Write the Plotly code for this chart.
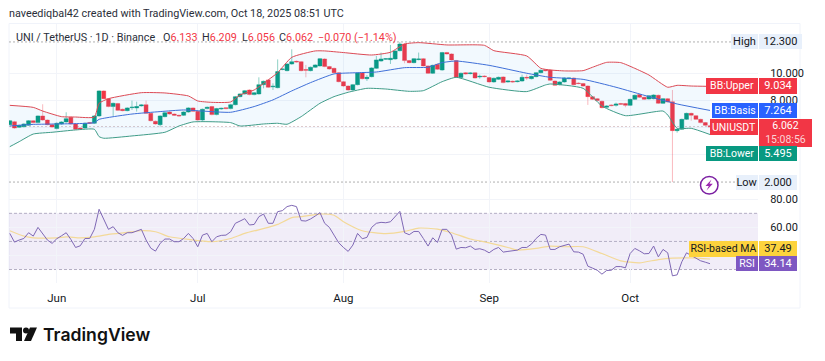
import pandas as pd
import plotly.graph_objects as go

W, H = 825, 361
START = "2025-05-22"
open_ = [6.22,6.44,6.03,6.07,6.17,6.51,6.37,6.86,6.56,6.22,5.93,6.27,6.42,6.76,6.27,5.97,5.97,6.37,6.32,6.86,
8.70,8.13,7.55,7.77,7.35,7.25,7.47,7.45,7.60,7.69,7.05,6.47,6.22,6.81,7.15,7.00,6.91,6.91,7.15,7.45,
7.20,6.56,7.40,7.55,6.96,7.37,7.47,7.40,7.69,8.28,8.48,8.77,8.43,8.48,9.16,9.51,9.00,8.94,10.27,10.19,
10.68,10.88,10.85,10.27,10.19,10.44,10.54,11.05,10.49,10.36,10.04,9.38,9.06,8.77,9.16,10.02,9.60,9.75,10.36,10.90,
11.03,11.00,11.05,11.66,12.15,10.93,10.78,11.00,11.07,10.54,10.00,10.66,10.24,11.52,11.42,10.93,9.68,10.04,9.97,10.04,
9.73,9.80,9.68,9.36,9.55,9.73,9.36,9.41,9.38,9.43,9.70,9.60,9.75,10.04,10.26,10.24,9.43,9.16,9.36,9.60,
9.65,9.28,9.24,9.06,8.28,8.13,7.94,7.50,7.67,7.64,7.77,7.77,7.64,8.08,8.43,8.23,8.11,8.13,8.38,7.79,
8.13,7.91,5.78,5.88,6.61,7.05,6.88,6.61,6.37,6.133]
close = [6.51,5.97,6.17,6.27,6.51,6.37,6.86,6.56,6.22,6.05,6.32,6.42,6.66,6.27,5.88,5.90,6.32,6.32,6.86,8.70,
8.13,7.55,7.79,7.27,7.25,7.45,7.50,7.55,7.67,7.05,6.51,6.27,6.86,7.10,7.00,6.91,6.86,7.15,7.45,7.20,
6.56,7.35,7.50,6.96,7.40,7.42,7.40,7.69,8.28,8.48,8.72,8.43,8.57,9.16,9.41,8.97,9.04,10.12,10.31,10.68,
10.85,10.83,10.19,10.22,10.44,10.61,11.07,10.49,10.31,10.04,9.38,9.06,8.77,9.16,10.02,9.60,9.70,10.39,10.98,11.05,
11.07,11.10,11.64,12.15,10.93,10.78,11.07,11.05,10.54,10.00,10.58,10.29,11.52,11.42,10.98,9.70,10.00,9.95,10.02,9.65,
9.77,9.75,9.36,9.63,9.70,9.31,9.43,9.36,9.43,9.70,9.65,9.77,10.04,10.22,10.19,9.48,9.11,9.36,9.65,9.65,
9.16,9.24,9.06,8.28,8.08,7.99,7.47,7.59,7.62,7.74,7.72,7.64,8.08,8.38,8.23,8.08,8.35,8.40,7.79,8.13,
7.89,5.78,5.88,6.61,7.05,6.91,6.61,6.37,6.17,6.062]
high = [6.56,6.50,6.22,6.32,6.56,6.55,6.90,7.72,6.60,6.28,6.38,6.47,7.13,6.82,6.32,6.02,6.38,6.42,6.92,8.75,
8.75,8.18,7.84,7.82,7.40,7.50,7.99,7.91,7.72,7.99,7.10,6.52,6.91,7.15,7.20,7.05,6.96,7.20,7.50,7.50,
7.25,7.40,7.55,7.60,7.45,7.47,7.52,7.75,8.33,8.53,8.77,8.82,8.62,9.70,9.46,9.56,9.26,11.02,10.36,10.73,
11.76,10.93,10.90,10.61,10.49,10.66,11.12,11.10,10.54,10.41,10.09,9.43,9.11,9.21,10.07,10.07,9.87,10.44,11.27,11.52,
11.12,12.08,11.70,12.30,12.20,10.98,11.12,11.52,11.12,10.59,10.63,10.71,11.57,11.57,11.47,10.98,10.05,10.09,10.07,10.09,
9.90,9.85,9.73,9.68,9.75,9.78,9.48,9.46,9.48,9.90,9.90,9.82,10.09,10.27,10.31,10.29,9.48,9.41,9.70,9.70,
9.70,9.33,9.29,9.11,8.33,8.18,7.99,7.64,7.72,7.84,7.82,7.82,8.13,8.43,8.48,8.28,8.40,8.45,8.43,8.18,
8.18,8.77,5.93,6.66,7.10,7.10,6.93,6.66,6.42,6.209]
low = [6.17,5.92,5.98,6.02,6.12,6.32,6.32,6.51,6.17,6.00,5.88,6.22,6.37,6.22,5.83,5.85,5.92,6.27,6.27,6.81,
8.08,7.50,6.86,7.22,7.20,7.20,7.30,7.18,7.55,7.00,6.46,6.22,6.07,6.76,6.95,6.86,6.81,6.86,7.10,7.15,
6.51,6.51,7.35,6.91,6.91,7.32,7.35,7.35,7.64,8.23,8.43,8.38,8.38,8.43,8.89,8.92,8.77,8.89,10.22,10.14,
10.63,10.78,10.14,9.70,10.14,10.39,10.49,10.44,10.26,9.99,9.33,9.01,8.72,8.72,9.11,9.55,9.43,9.70,10.31,10.85,
10.98,10.68,11.00,11.61,10.73,10.73,10.73,10.95,10.49,9.95,9.95,10.24,10.19,11.37,10.93,9.65,9.63,9.90,9.92,9.60,
9.60,9.70,9.31,9.31,9.50,9.26,9.31,9.31,9.33,9.38,9.50,9.55,9.70,9.99,10.14,9.43,9.06,9.11,9.31,9.55,
9.11,9.19,9.01,7.67,8.03,7.94,7.42,7.45,7.57,7.55,7.67,7.50,7.59,8.03,8.18,8.03,8.06,8.08,7.74,7.74,
7.84,2.00,5.63,5.83,6.56,6.51,6.56,6.32,6.12,6.056]

bb_upper_idx = [0,5,7,11,14,18,19,21,28,33,38,40,43,47,49,52,55,57,60,65,67,71,77,81,84,87,93,101,103,110,113,115,118,122,124,127,130,133,136,140,142,145,149]
bb_upper = [7.64,7.49,7.22,6.81,6.78,6.78,7.79,8.13,8.57,8.55,8.33,7.96,7.86,7.89,8.40,8.77,9.51,10.04,11.17,11.64,11.64,11.52,11.34,11.54,12.15,12.25,12.08,12.05,11.66,11.27,10.36,10.24,10.17,10.19,10.44,10.80,10.78,10.36,9.87,8.97,9.11,9.06,9.034]
bb_basis_idx = [0,5,10,18,19,26,32,37,41,47,52,56,60,64,69,74,78,84,89,92,95,102,110,115,122,129,136,142,149]
bb_basis = [6.12,6.24,6.27,6.37,6.61,7.00,7.18,7.30,7.22,7.13,7.55,8.04,8.70,9.31,9.95,10.04,10.09,10.41,10.44,10.78,10.90,10.58,10.00,9.70,9.55,8.97,8.28,7.74,7.264]
bb_lower_idx = [0,2,5,9,14,18,19,20,26,33,36,39,47,49,54,57,59,62,66,69,72,76,80,85,88,92,95,102,110,114,115,122,126,131,139,140,142,145,149]
bb_lower = [4.60,4.97,5.53,5.66,5.83,5.88,5.34,5.22,5.39,5.66,6.12,6.42,6.37,6.12,6.27,6.32,6.25,6.81,7.79,8.28,8.60,8.89,8.84,8.67,8.72,9.38,9.70,8.97,8.65,9.14,9.21,8.89,7.59,6.88,7.22,6.93,5.95,5.95,5.495]

rsi = [55.7,49.5,51,52.1,56.2,53.8,60,55.7,51,48.6,51.9,54,56.2,51.4,45.7,46.9,52.1,52.1,58.6,72.9,
65.2,58.6,60.5,56.2,54.3,56.2,56.2,57.6,58.6,51,45.2,43.1,48.6,51.7,51.7,49.8,49.8,52.1,55.7,52.1,
46.2,54.5,55.7,49.8,53.3,54.3,54.5,56.9,62.9,64.5,66.2,61.7,62.1,67.6,69.5,62.9,62.9,71.2,71.9,74.8,
75.7,74.8,64.8,64.5,66,68.1,70.5,62.9,60,54.5,49,45.7,42.9,47.4,55.7,51.9,52.9,60,62.9,63.6,
63.3,64,67.6,71.4,56.2,54.8,57.1,57.1,52.1,46.7,52.6,49.3,58.6,58.6,54.5,44.5,45.7,45.5,46.7,44.3,
44.8,43.8,41.9,44.3,45.7,42.4,42.9,43.1,43.8,45.7,45.7,48.1,52.1,55,54.5,44.3,44.3,46.2,47.4,48.1,
42.6,42.4,40.9,32.4,31,29.5,26.7,29.3,29.5,32.1,32.1,31.2,41.4,45,43.3,41.2,41.4,46.7,39,44.3,
41.9,25.5,26.2,35.5,41.9,40.2,38.3,36.2,35.2,34.14]
rsi_ma_idx = [0,3,5,10,12,15,18,21,25,28,31,34,38,43,47,50,55,57,60,62,66,69,71,75,80,84,87,91,94,98,102,106,108,112,115,118,122,126,130,134,138,141,145,149]
rsi_ma = [57.6,53.8,52.6,52.6,53.3,52.6,53.3,55,56.4,57.6,56.9,53.3,51.4,49.8,52.1,55.7,60,62.1,66.9,67.6,69.5,68.6,64,57.6,55.5,57.1,59.5,58.8,56.2,51.7,49,45.7,43.8,45,46.7,46.2,46.2,41.4,36.2,34.8,37.1,38.1,38.3,37.49]

month_ticks = ["2025-06-01", "2025-07-01", "2025-08-01", "2025-09-01", "2025-10-01"]
month_labels = ["Jun", "Jul", "Aug", "Sep", "Oct"]
price_ticks = [10, 8, 6, 4, 2]
price_labels = ["10.000", "8.000", "", "", ""]
rsi_ticks = [80, 60, 40]
rsi_labels = ["80.00", "60.00", ""]

dates = pd.date_range(START, periods=len(close))
d = lambda idx: [dates[i] for i in idx]

RED, GREEN, BLUE, PURPLE, YELLOW = "#f23645", "#089981", "#2962ff", "#7e57c2", "#fdd33d"
FONT = "Roboto"
INK = "#131722"
GRID = "#f2f4f9"

fig = go.Figure()
fig.add_trace(go.Candlestick(
    x=dates, open=open_, high=high, low=low, close=close, xaxis="x", yaxis="y",
    increasing=dict(line=dict(color="rgba(8,153,129,0.45)", width=1), fillcolor=GREEN),
    decreasing=dict(line=dict(color="rgba(242,54,69,0.35)", width=1), fillcolor=RED),
    whiskerwidth=0, showlegend=False, hoverinfo="skip"))
fig.add_trace(go.Scatter(x=d(bb_upper_idx), y=bb_upper, mode="lines", xaxis="x", yaxis="y",
    line=dict(color="#dc4a55", width=1, shape="spline", smoothing=0.5), hoverinfo="skip"))
fig.add_trace(go.Scatter(x=d(bb_lower_idx), y=bb_lower, mode="lines", xaxis="x", yaxis="y",
    line=dict(color="#3f9c88", width=1, shape="spline", smoothing=0.5), fill="tonexty",
    fillcolor="rgba(33,150,243,0.06)", hoverinfo="skip"))
fig.add_trace(go.Scatter(x=d(bb_basis_idx), y=bb_basis, mode="lines", xaxis="x", yaxis="y",
    line=dict(color="#3f6fd8", width=1, shape="spline", smoothing=0.5), hoverinfo="skip"))
fig.add_trace(go.Scatter(x=d(rsi_ma_idx), y=rsi_ma, mode="lines", xaxis="x2", yaxis="y2",
    line=dict(color="#f3d998", width=1.2, shape="spline", smoothing=0.6), hoverinfo="skip"))
fig.add_trace(go.Scatter(x=dates, y=rsi, mode="lines", xaxis="x2", yaxis="y2",
    line=dict(color="#7f68b5", width=1), hoverinfo="skip"))

px = lambda v: v / W
py = lambda v: 1 - v / H
shapes, anns = [], []

def text(x, y, s, size=11, color=INK, anchor="left", **font):
    anns.append(dict(xref="paper", yref="paper", x=px(x), y=py(y), text=s, showarrow=False,
                     xanchor=anchor, yanchor="middle", borderpad=0, borderwidth=0,
                     font=dict(family=font.pop("family", FONT), size=size, color=color, **font)))

def tag(x0, x1, y0, y1, s, bg, color="white", size=10.5, anchor="center"):
    anns.append(dict(xref="paper", yref="paper", x=px((x0 + x1) / 2), y=py((y0 + y1) / 2), text=s,
                     showarrow=False, xanchor="center", yanchor="middle", width=x1 - x0, height=y1 - y0,
                     bgcolor=bg, borderpad=0, borderwidth=0, align=anchor,
                     font=dict(family=FONT, size=size, color=color)))

def box(x0, y0, x1, y1, **kw):
    shapes.append(dict(type="rect", xref="paper", yref="paper", x0=px(x0), x1=px(x1),
                       y0=py(y0), y1=py(y1), **kw))

def poly(points, color):
    path = "M" + " L".join(f"{px(a):.5f},{py(b):.5f}" for a, b in points) + " Z"
    shapes.append(dict(type="path", xref="paper", yref="paper", path=path, fillcolor=color, line=dict(width=0)))

# frame and pane separators
box(9, 23.5, 800, 308, line=dict(color="#f0f3fa", width=1), layer="below")

# RSI band and levels
shapes.append(dict(type="rect", xref="paper", yref="y2", x0=px(9), x1=px(758), y0=30, y1=70,
                   fillcolor="rgba(126,87,194,0.11)", line=dict(width=0), layer="below"))
for lv in (70, 50, 30):
    shapes.append(dict(type="line", xref="paper", yref="y2", x0=px(9), x1=px(758), y0=lv, y1=lv,
                       line=dict(color="#b4aec4", width=1, dash="3px,2px"), layer="below"))
# high / low / last dotted price lines
for lv, col, end in ((12.3, "#b0b0b0", 731), (2.0, "#b0b0b0", 736), (close[-1], "#d0b4b8", 710)):
    shapes.append(dict(type="line", xref="paper", yref="y", x0=px(9), x1=px(end), y0=lv, y1=lv,
                       line=dict(color=col, width=1, dash="2px,2px"), layer="below"))

# header
text(9, 13.5, "naveediqbal42 created with TradingView.com, Oct 18, 2025 08:51 UTC", 10.8, "#2a2e39")
text(16, 37.5, "UNI / TetherUS · 1D · Binance", 10.8, "#2a2e39")
for x, key, val in ((163, "O", "6.133"), (202, "H", "6.209"), (242, "L", "6.056"), (279, "C", "6.062")):
    text(x, 37.5, f'{key}<span style="color:{RED}">{val}</span>', 10.8, "#2a2e39")
text(318, 37.5, "−0.070 (−1.14%)", 10.8, RED)

# right-hand tags
tag(759, 802, 34, 49, "12.300", "#e8f0fb", INK, 11)
tag(731, 758, 34, 49, "High", "#e8f0fb", INK, 11)
tag(706, 758, 78.5, 94, "BB:Upper", RED)
tag(759, 797, 78.5, 94, f"{bb_upper[-1]:.3f}", RED, size=11)
tag(712, 758, 103, 118, "BB:Basis", BLUE)
tag(759, 797, 103, 118, f"{bb_basis[-1]:.3f}", BLUE, size=11)
tag(710, 758, 119, 135, "UNIUSDT", RED)
tag(759, 812, 119, 146.5, f"{close[-1]:.3f}<br><span style='color:#fbd3d6'>15:08:56</span>", RED, size=10.5)
tag(706, 758, 146.5, 161, "BB:Lower", GREEN)
tag(759, 797, 146.5, 161, f"{bb_lower[-1]:.3f}", GREEN, size=11)
tag(736, 758, 175, 190, "Low", "#e8f0fb", INK, 11)
tag(759, 797, 175, 190, "2.000", "#e8f0fb", INK, 11)
tag(689, 758, 241, 256.5, "RSI-based MA", YELLOW, INK)
tag(759, 797, 241, 256.5, f"{rsi_ma[-1]:.2f}", YELLOW, INK, 11)
tag(736, 758, 256.5, 271, "RSI", PURPLE)
tag(759, 797, 256.5, 271, f"{rsi[-1]:.2f}", PURPLE, size=11)

# lightning badge
shapes.append(dict(type="circle", xref="paper", yref="paper", x0=px(700.5), x1=px(718), y0=py(176.5), y1=py(194),
                   line=dict(color="#7b1fa2", width=1.5), fillcolor="white"))
poly([(711.5, 179.5), (705.5, 186), (708.8, 186), (706.5, 190.5), (712.8, 183.8), (709.5, 183.8)], "#9c27b0")

# logo
poly([(10, 327.5), (22, 327.5), (22, 341), (16, 341), (16, 333.5), (10, 333.5)], "#111111")
shapes.append(dict(type="circle", xref="paper", yref="paper", x0=px(23), x1=px(29), y0=py(327.5), y1=py(333.5),
                   fillcolor="#111111", line=dict(width=0)))
poly([(30, 327.5), (37, 327.5), (31, 341), (24, 341)], "#111111")
text(43, 334, "TradingView", 17.6, "#111111", family="Inter", weight=600)

common_x = dict(range=["2025-05-21 20:00", "2025-10-28 05:00"], domain=[px(9), px(758)], type="date",
                tickvals=month_ticks, showgrid=True, gridcolor=GRID, gridwidth=1, zeroline=False,
                showline=False, tickfont=dict(family=FONT, size=11.5, color=INK))
fig.update_layout(
    width=W, height=H, margin=dict(l=0, r=0, t=0, b=0), autosize=False,
    paper_bgcolor="white", plot_bgcolor="white", showlegend=False, hovermode=False,
    boxgap=0.15, boxgroupgap=0,
    shapes=shapes, annotations=anns,
    xaxis=dict(common_x, anchor="y", showticklabels=False, ticks="", rangeslider=dict(visible=False)),
    xaxis2=dict(common_x, anchor="y2", ticktext=month_labels, ticks="outside", ticklen=4,
                tickcolor="rgba(0,0,0,0)"),
    yaxis=dict(domain=[py(183), py(24)], range=[1.93, 13.62], side="right", anchor="x", tickvals=price_ticks,
               ticktext=price_labels, showgrid=True, gridcolor=GRID, zeroline=False, showline=False,
               ticks="outside", ticklen=9, tickcolor="rgba(0,0,0,0)", tickfont=dict(family=FONT, size=11, color=INK)),
    yaxis2=dict(domain=[py(283), py(183)], range=[20.4, 91.6], side="right", anchor="x2", tickvals=rsi_ticks,
                ticktext=rsi_labels, showgrid=True, gridcolor=GRID, zeroline=False, showline=False,
                ticks="outside", ticklen=9, tickcolor="rgba(0,0,0,0)", tickfont=dict(family=FONT, size=11, color=INK)),
)
fig.write_html("out.html", config=dict(displayModeBar=False), post_script="document.body.style.margin='0';")
